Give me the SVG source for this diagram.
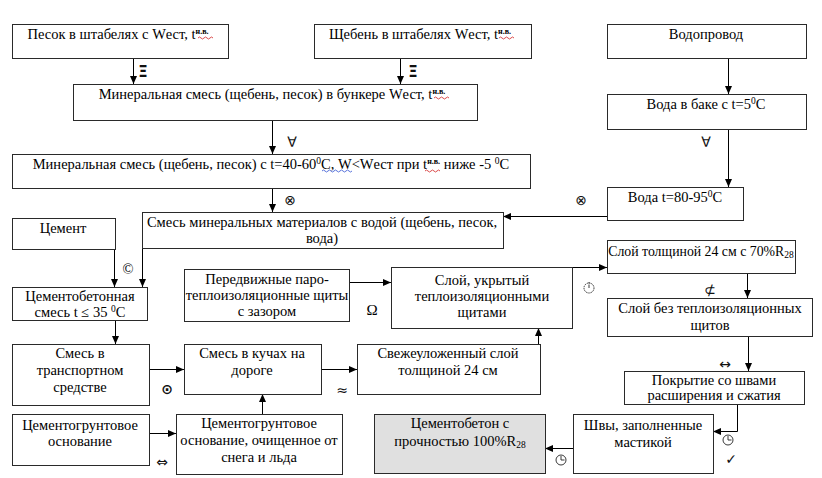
<svg xmlns="http://www.w3.org/2000/svg" width="822" height="478" viewBox="0 0 822 478">
<defs>
<marker id="ah" viewBox="0 0 8 8" refX="8" refY="4" markerWidth="8" markerHeight="8" markerUnits="userSpaceOnUse" orient="auto">
<path d="M0,0.5 L8,4 L0,7.5 Z" fill="#000"/>
</marker>
</defs>
<style>
.box{fill:#fff;stroke:#2a2a2a;stroke-width:1}
.gray{fill:#e0e0e0}
.t{font-family:'Liberation Serif',serif;font-size:14.5px;fill:#000;text-anchor:middle}
.sup{font-size:8px;font-weight:bold}
.sub{font-size:9.5px}
.sym{font-family:'DejaVu Sans',sans-serif;font-size:14px;fill:#111;text-anchor:middle}
.c{fill:none;stroke:#000;stroke-width:1;marker-end:url(#ah)}
.spell{fill:none;stroke:#d02020;stroke-width:0.8}
.spellb{fill:none;stroke:#3050d0;stroke-width:0.8}
.ico{fill:none;stroke:#222;stroke-width:0.9}
</style>
<rect width="822" height="478" fill="#fff"/>
<g id="connectors">
<path class="c" d="M133.5,58 V84"/>
<path class="c" d="M400.5,58 V84"/>
<path class="c" d="M728.5,58 V94"/>
<path class="c" d="M272.5,120 V154"/>
<path class="c" d="M728.5,129 V187"/>
<path class="c" d="M272.5,188 V212"/>
<path class="c" d="M607,216.5 H503"/>
<path class="c" d="M114.5,249 V287"/>
<path class="c" d="M142.5,248 V287"/>
<path class="c" d="M115.5,320 V344"/>
<path class="c" d="M349,282.5 H391"/>
<path class="c" d="M572,267.5 H607"/>
<path class="c" d="M747.5,273 V298"/>
<path class="c" d="M748.5,336 V371"/>
<path class="c" d="M737.5,404 V431.5 H713"/>
<path class="c" d="M573,448.5 H545"/>
<path class="c" d="M149,369.5 H184"/>
<path class="c" d="M321,369.5 H357"/>
<path class="c" d="M262.5,414 V394"/>
<path class="c" d="M538.5,344 V328"/>
<path class="c" d="M149,433.5 H176"/>
<text class="sym" x="143" y="77" font-weight="bold" style="font-size:15px">Ξ</text>
<text class="sym" x="413" y="77" font-weight="bold" style="font-size:15px">Ξ</text>
<text class="sym" x="292" y="147">∀</text>
<text class="sym" x="706" y="147">∀</text>
<text class="sym" x="290" y="205">⊗</text>
<text class="sym" x="581" y="205">⊗</text>
<text class="sym" x="710" y="295">⊄</text>
<text class="sym" x="725" y="369">↔</text>
<text class="sym" x="167" y="394" font-weight="bold">⊙</text>
<text class="sym" x="342" y="395">≈</text>
<text class="sym" x="162" y="467">⇔</text>
<text class="sym" x="731" y="464">✓</text>
<text class="t" x="128" y="274">©</text>
<text class="t" x="372" y="315" style="font-size:15px">Ω</text>
<g class="ico">
<circle cx="589" cy="288" r="5" stroke-dasharray="1.5 0.8"/>
<path d="M589,288 V284.5 M589,282 V283.5"/>
</g>
<g class="ico">
<circle cx="728" cy="440" r="5"/>
<path d="M728,440 V436 M728,440 H731.5"/>
</g>
<g class="ico">
<circle cx="561" cy="460" r="5"/>
<path d="M561,460 V456 M561,460 H564.5"/>
</g>
</g>

<g id="n1">
<rect class="box" x="12.5" y="24.5" width="216" height="34"/>
<text class="t" x="118" y="39">Песок в штабелях с Wест, t<tspan class="sup" dy="-5">н.в.</tspan></text>
<path class="spell" d="M198,38 q1.5,-2 3,0 t3,0 t3,0 t3,0 t3,0"/>
</g>
<g id="n2">
<rect class="box" x="314.5" y="24.5" width="217" height="34"/>
<text class="t" x="420" y="39">Щебень в штабелях Wест, t<tspan class="sup" dy="-5">н.в.</tspan></text>
<path class="spell" d="M499,38 q1.5,-2 3,0 t3,0 t3,0 t3,0 t3,0"/>
</g>
<g id="n3">
<rect class="box" x="73.5" y="84.5" width="404" height="36"/>
<text class="t" x="272" y="99">Минеральная смесь (щебень, песок) в бункере Wест, t<tspan class="sup" dy="-5">н.в.</tspan></text>
<path class="spell" d="M434,98 q1.5,-2 3,0 t3,0 t3,0 t3,0 t3,0"/>
</g>
<g id="n4">
<rect class="box" x="607.5" y="24.5" width="199" height="34"/>
<text class="t" x="706" y="39">Водопровод</text>
</g>
<g id="n5">
<rect class="box" x="607.5" y="94.5" width="199" height="35"/>
<text class="t" x="706" y="109">Вода в баке с t=5<tspan class="sub" dy="-5">0</tspan><tspan dy="5">С</tspan></text>
</g>
<g id="n6">
<rect class="box" x="12.5" y="154.5" width="518" height="34"/>
<text class="t" x="271" y="169">Минеральная смесь (щебень, песок) с t=40-60<tspan class="sub" dy="-5">0</tspan><tspan dy="5">С,   W&lt;Wест при t</tspan><tspan class="sup" dy="-5">н.в.</tspan><tspan dy="5"> ниже -5 </tspan><tspan class="sub" dy="-5">0</tspan><tspan dy="5">С</tspan></text>
<path class="spellb" d="M322,171 q1.5,-2 3,0 t3,0 t3,0 t3,0 t3,0 t3,0 t3,0 t3,0 t3,0 t3,0"/>
<path class="spell" d="M425,171 q1.5,-2 3,0 t3,0 t3,0 t3,0 t3,0"/>
</g>
<g id="n7">
<rect class="box" x="607.5" y="187.5" width="136" height="33"/>
<text class="t" x="675" y="202">Вода t=80-95<tspan class="sub" dy="-5">0</tspan><tspan dy="5">С</tspan></text>
</g>
<g id="n8">
<rect class="box" x="142.5" y="212.5" width="361" height="36"/>
<text class="t" x="322" y="227">Смесь минеральных материалов с водой (щебень, песок,</text>
<text class="t" x="322" y="243">вода)</text>
</g>
<g id="n9">
<rect class="box" x="12.5" y="218.5" width="103" height="31"/>
<text class="t" x="63" y="233">Цемент</text>
</g>
<g id="n10">
<rect class="box" x="12.5" y="287.5" width="135" height="33"/>
<text class="t" x="80" y="301">Цементобетонная</text>
<text class="t" x="80" y="317">смесь t ≤ 35 <tspan class="sub" dy="-5">0</tspan><tspan dy="5">С</tspan></text>
</g>
<g id="n11">
<rect class="box" x="184.5" y="269.5" width="165" height="52"/>
<text class="t" x="267" y="284">Передвижные паро-</text>
<text class="t" x="267" y="300">теплоизоляционные щиты</text>
<text class="t" x="267" y="316">с зазором</text>
</g>
<g id="n12">
<rect class="box" x="391.5" y="267.5" width="181" height="61"/>
<text class="t" x="482" y="285">Слой, укрытый</text>
<text class="t" x="482" y="301">теплоизоляционными</text>
<text class="t" x="482" y="317">щитами</text>
</g>
<g id="n13">
<rect class="box" x="607.5" y="240.5" width="188" height="33"/>
<text class="t" x="701" y="256" style="font-size:13.8px">Слой толщиной 24 см с 70%R<tspan class="sub" dy="2">28</tspan></text>
</g>
<g id="n14">
<rect class="box" x="607.5" y="298.5" width="205" height="38"/>
<text class="t" x="710" y="313">Слой без теплоизоляционных</text>
<text class="t" x="710" y="330">щитов</text>
</g>
<g id="n15">
<rect class="box" x="624.5" y="371.5" width="180" height="33"/>
<text class="t" x="714" y="385">Покрытие со швами</text>
<text class="t" x="714" y="400">расширения и сжатия</text>
</g>
<g id="n16">
<rect class="box" x="573.5" y="414.5" width="140" height="59"/>
<text class="t" x="643" y="430">Швы, заполненные</text>
<text class="t" x="643" y="447">мастикой</text>
</g>
<g id="n17">
<rect class="box gray" x="374.5" y="414.5" width="171" height="59"/>
<text class="t" x="460" y="428">Цементобетон с</text>
<text class="t" x="460" y="446">прочностью 100%R<tspan class="sub" dy="2">28</tspan></text>
</g>
<g id="n18">
<rect class="box" x="12.5" y="344.5" width="137" height="61"/>
<text class="t" x="80" y="358">Смесь в</text>
<text class="t" x="80" y="375">транспортном</text>
<text class="t" x="80" y="392">средстве</text>
</g>
<g id="n19">
<rect class="box" x="184.5" y="344.5" width="137" height="50"/>
<text class="t" x="252" y="358">Смесь в кучах на</text>
<text class="t" x="252" y="375">дороге</text>
</g>
<g id="n20">
<rect class="box" x="357.5" y="344.5" width="183" height="50"/>
<text class="t" x="448" y="358">Свежеуложенный слой</text>
<text class="t" x="448" y="375">толщиной 24 см</text>
</g>
<g id="n21">
<rect class="box" x="12.5" y="414.5" width="137" height="51"/>
<text class="t" x="80" y="430">Цементогрунтовое</text>
<text class="t" x="80" y="446">основание</text>
</g>
<g id="n22">
<rect class="box" x="176.5" y="414.5" width="166" height="60"/>
<text class="t" x="259" y="428">Цементогрунтовое</text>
<text class="t" x="259" y="445">основание, очищенное от</text>
<text class="t" x="259" y="462">снега и льда</text>
</g>
</svg>
